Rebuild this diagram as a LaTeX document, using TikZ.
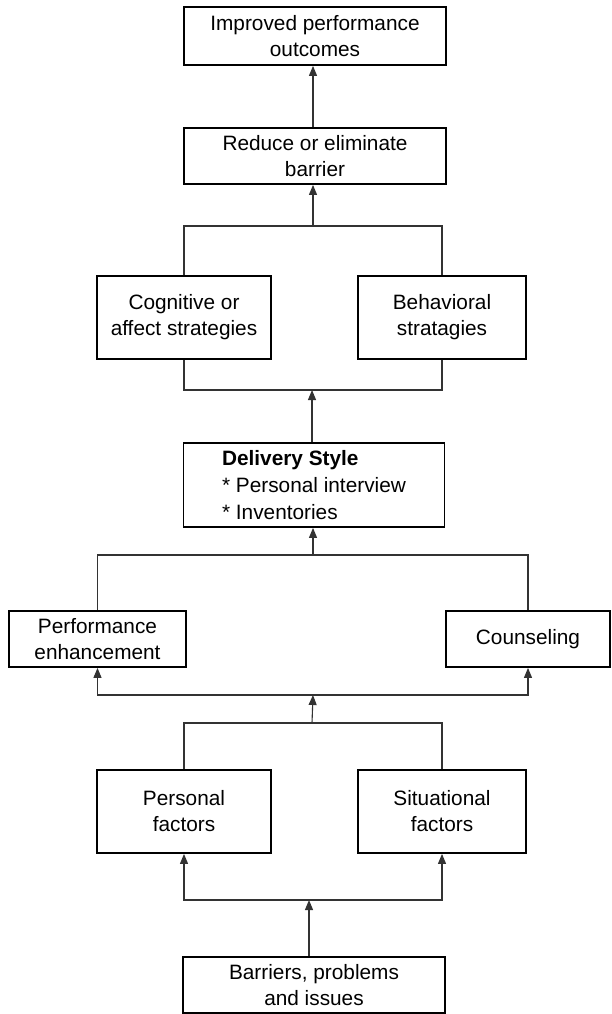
\documentclass[tikz,border=0pt]{standalone}
\usepackage{fontspec}
\setmainfont{Liberation Sans}
\usetikzlibrary{arrows.meta}
\begin{document}
\begin{tikzpicture}[x=1pt,y=-1pt,
  box/.style={draw=black,line width=1.8pt,rectangle,align=center,inner sep=0pt,
    font=\fontsize{20.8}{26}\selectfont},
  link/.style={draw=black!80,line width=1.1pt},
  arr/.style={link,-{Triangle[length=10pt,width=8pt]}}]
\useasboundingbox (0,0) rectangle (611,1014);

% boxes, top to bottom
\node[box,minimum width=262,minimum height=58] (out) at (315,36) {Improved performance\\outcomes};
\node[box,minimum width=262,minimum height=56] (red) at (315,156) {Reduce or eliminate\\barrier};
\node[box,minimum width=174,minimum height=83] (cog) at (184,317.5) {Cognitive or\\affect strategies};
\node[box,minimum width=168,minimum height=83] (beh) at (442,317.5) {Behavioral\\stratagies};
\node[box,minimum width=261,minimum height=84,align=left,font=\fontsize{20.8}{27}\selectfont] (del) at (314,485)
  {\textbf{Delivery Style}\\ * Personal interview\\ * Inventories};
\node[box,minimum width=177,minimum height=56] (perf) at (97.5,639) {Performance\\enhancement};
\node[box,minimum width=164,minimum height=56] (coun) at (528,639) {Counseling};
\node[box,minimum width=174,minimum height=83] (pers) at (184,811.5) {Personal\\factors};
\node[box,minimum width=168,minimum height=83] (sit) at (442,811.5) {Situational\\factors};
\node[box,minimum width=262,minimum height=56] (bar) at (314,985) {Barriers, problems\\and issues};

% junction points of the connectors
\coordinate (j0) at (313,0);
\coordinate (j1) at (313,226);
\coordinate (j2) at (312,390);
\coordinate (j3) at (313,555);
\coordinate (j4) at (313,695);
\coordinate (j5) at (312,723);
\coordinate (j6) at (309,900);

% connectors
\draw[arr] (red.north -| j0) -- (out.south -| j0);
\draw[link] (cog.north) |- (j1) -| (beh.north);
\draw[arr] (j1) -- (red.south -| j1);
\draw[link] (cog.south) |- (j2) -| (beh.south);
\draw[arr] (del.north -| j2) -- (j2);
\draw[link] (perf.north) |- (j3) -| (coun.north);
\draw[arr] (j3) -- (del.south -| j3);
\draw[arr] (j4) -| (perf.south);
\draw[arr] (j4) -| (coun.south);
\draw[arr] (j5) -- (j4);
\draw[link] (pers.north) |- (j5) -| (sit.north);
\draw[arr] (j6) -| (pers.south);
\draw[arr] (j6) -| (sit.south);
\draw[arr] (bar.north -| j6) -- (j6);
\end{tikzpicture}
\end{document}
